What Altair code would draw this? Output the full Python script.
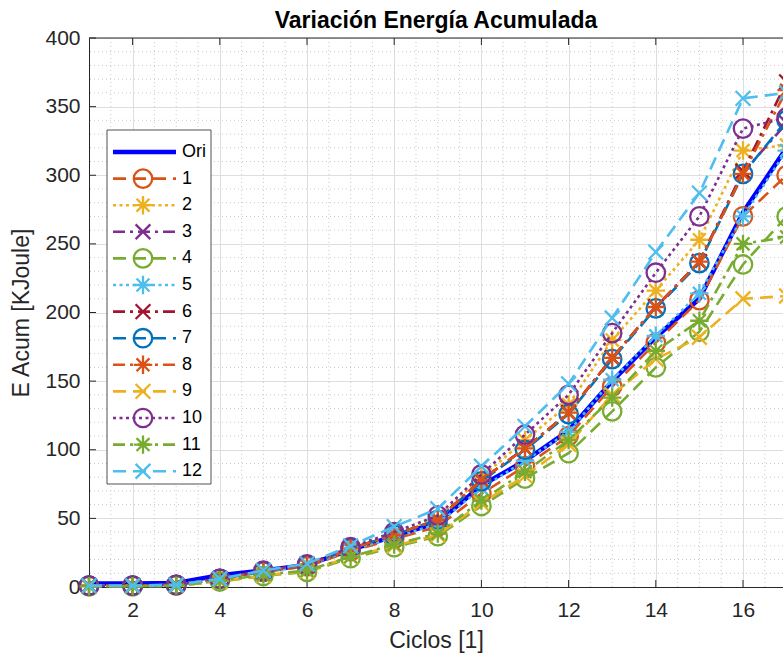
import altair as alt
import pandas as pd
import numpy as np

# ---------------- data ----------------
ciclos = list(range(1, 18))
ori = [2.5, 2.5, 3, 8.5, 12, 16, 27, 37, 47, 74, 92, 114, 150, 182, 210, 273, 320]
s1 = [1, 1, 1.5, 6, 11, 15, 26, 35, 44, 68, 88, 110, 146, 178, 209, 270, 300]
s2 = [1, 1, 1.5, 6, 11.5, 16, 28, 39, 50, 80, 107, 133, 180, 216, 253, 318, 322]
s3 = [1, 1, 1.5, 6, 11.5, 16, 28, 38, 49, 78, 101, 127, 167, 204, 237, 302, 338]
s4 = [0.5, 0.5, 1, 4, 8, 11, 21, 29, 37, 59, 79, 97.5, 128, 160, 186, 235, 270]
s5 = [1, 1, 1.5, 6, 11, 15.5, 27, 36, 46, 72, 92, 113, 151, 183, 214, 270, 318]
s6 = [1, 1, 1.5, 6, 11.5, 16, 28, 38, 49, 78, 101, 127, 167, 204, 237, 303, 368]
s7 = [1, 1, 1.5, 6, 11.5, 16, 28, 38, 49, 77, 100, 126, 166, 203, 236, 301, 340]
s8 = [1, 1, 1.5, 6, 11.5, 16, 28, 38, 49, 78, 101, 127, 167, 204, 237, 301, 362]
s9 = [0.5, 0.5, 1, 4, 8.5, 11.5, 22, 30, 38, 61, 81, 104, 140, 166, 182, 210, 212]
s10 = [1, 1, 1.5, 6, 12, 16.5, 29, 40, 52, 82, 111, 140, 185, 229, 270, 334, 342]
s11 = [0.5, 0.5, 1, 4.5, 9, 12, 22, 31, 39, 63, 84, 107, 138, 172, 194, 250, 255]
s12 = [1, 1, 1.5, 6, 12, 17, 30, 44, 57, 88, 117, 148, 196, 244, 287, 356, 360]

names = ["Ori", "1", "2", "3", "4", "5", "6", "7", "8", "9", "10", "11", "12"]
series = [ori, s1, s2, s3, s4, s5, s6, s7, s8, s9, s10, s11, s12]
colors = ["#0000FF", "#D95319", "#EDB120", "#7E2F8E", "#77AC30", "#4DBEEE",
          "#A2142F", "#0072BD", "#D95319", "#EDB120", "#7E2F8E", "#77AC30", "#4DBEEE"]
styles = ["-", "--", ":", "-.", "--", ":", "-.", "--", "-.", "--", ":", "-.", "--"]
markers = [None, "o", "*", "x", "o", "*", "x", "o", "*", "x", "o", "*", "x"]

x_ticks = [2, 4, 6, 8, 10, 12, 14, 16]
y_ticks = [0, 50, 100, 150, 200, 250, 300, 350, 400]

# ---------------- styling ----------------
W, H = 694, 549
FONT = "Liberation Sans"
TXT = "#262626"
MSIZE = 340
dash_map = {"-": None, "--": [13, 7], ":": [3, 3.5], "-.": [12, 5, 3, 5]}
shape_map = {
    "o": "circle",
    "*": "M0,-1L0,1M-1,0L1,0M-0.7,-0.7L0.7,0.7M-0.7,0.7L0.7,-0.7",
    "x": "M-0.8,-0.8L0.8,0.8M-0.8,0.8L0.8,-0.8",
}

xs = alt.Scale(domain=[1, 1 + W / 43.6], nice=False, zero=False)
ys = alt.Scale(domain=[0, 400], nice=False, zero=False)
xaxis = alt.Axis(values=x_ticks, title="Ciclos [1]", grid=True, gridColor="#dedede",
                 gridWidth=1, ticks=False, domainColor=TXT, domainWidth=1,
                 labelFontSize=21, labelColor=TXT, labelFont=FONT, labelPadding=12,
                 titleFontSize=23, titleFont=FONT, titleColor=TXT,
                 titleFontWeight="normal", titlePadding=9, format="d", labelFlush=False)
yaxis = alt.Axis(values=y_ticks, title="E Acum [KJoule]", grid=True, gridColor="#dedede",
                 gridWidth=1, ticks=False, domainColor=TXT, domainWidth=1,
                 labelFontSize=21, labelColor=TXT, labelFont=FONT, labelPadding=9,
                 titleFontSize=23, titleFont=FONT, titleColor=TXT,
                 titleFontWeight="normal", titlePadding=11, format="d", labelFlush=False)


def X(f):
    return alt.X(f, type="quantitative", scale=xs, axis=xaxis)


def Y(f):
    return alt.Y(f, type="quantitative", scale=ys, axis=yaxis)


layers = []

# minor grid
minor_x = [v for v in np.arange(1.5, 17.01, 0.5) if v not in x_ticks]
minor_y = [v for v in range(10, 400, 10) if v % 50 != 0]
layers.append(alt.Chart(pd.DataFrame({"v": minor_x})).mark_rule(
    color="#cacaca", strokeWidth=1, strokeDash=[1, 3]).encode(x=X("v")))
layers.append(alt.Chart(pd.DataFrame({"v": minor_y})).mark_rule(
    color="#cacaca", strokeWidth=1, strokeDash=[1, 3]).encode(y=Y("v")))

# inner ticks (bottom, top, left)
tx = pd.DataFrame({"v": x_ticks})
ty = pd.DataFrame({"v": y_ticks})
layers.append(alt.Chart(tx).mark_rule(color=TXT, strokeWidth=1).encode(
    x=X("v"), y=alt.value(H), y2=alt.value(H - 7)))
layers.append(alt.Chart(tx).mark_rule(color=TXT, strokeWidth=1).encode(
    x=X("v"), y=alt.value(0), y2=alt.value(7)))
layers.append(alt.Chart(ty).mark_rule(color=TXT, strokeWidth=1).encode(
    y=Y("v"), x=alt.value(0), x2=alt.value(7)))

# series
for name, vals, col, st, mk in zip(names, series, colors, styles, markers):
    df = pd.DataFrame({"ciclo": ciclos, "e": vals})
    lkw = dict(color=col, strokeWidth=4.5 if name == "Ori" else 2.6, strokeCap="butt")
    if dash_map[st] is not None:
        lkw["strokeDash"] = dash_map[st]
    base = alt.Chart(df)
    layers.append(base.mark_line(**lkw).encode(x=X("ciclo"), y=Y("e")))
    if mk is not None:
        layers.append(base.mark_point(shape=shape_map[mk], filled=False, size=MSIZE,
                                      strokeWidth=2.3, color=col, opacity=1)
                      .encode(x=X("ciclo"), y=Y("e")))

# top border
layers.append(alt.Chart(pd.DataFrame({"v": [0]})).mark_rule(color=TXT, strokeWidth=1).encode(
    x=alt.value(0), x2=alt.value(W), y=alt.value(0)))

# legend
LX0, LX1, LY0, LY1 = 18, 122, 92, 446
layers.append(alt.Chart(pd.DataFrame({"v": [0]})).mark_rect(
    fill="white", stroke=TXT, strokeWidth=0.8).encode(
    x=alt.value(LX0), x2=alt.value(LX1), y=alt.value(LY0), y2=alt.value(LY1)))
for i, (name, col, st, mk) in enumerate(zip(names, colors, styles, markers)):
    yy = 114 + 26.6 * i
    d = pd.DataFrame({"s": [name]})
    lkw = dict(color=col, strokeWidth=4.5 if name == "Ori" else 2.6, strokeCap="butt")
    if dash_map[st] is not None:
        lkw["strokeDash"] = dash_map[st]
    layers.append(alt.Chart(d).mark_rule(**lkw).encode(
        x=alt.value(24), x2=alt.value(87), y=alt.value(yy)))
    if mk is not None:
        layers.append(alt.Chart(d).mark_point(shape=shape_map[mk], filled=False, size=MSIZE,
                                              strokeWidth=2.3, color=col, opacity=1).encode(
            x=alt.value(54), y=alt.value(yy)))
    layers.append(alt.Chart(d).mark_text(align="left", baseline="middle", font=FONT,
                                         fontSize=18, color="#000000").encode(
        x=alt.value(93), y=alt.value(yy), text="s:N"))

chart = alt.layer(*layers).properties(
    width=W, height=H,
    title=alt.TitleParams("Variación Energía Acumulada", font=FONT, fontSize=23,
                          fontWeight="bold", color="#000000", anchor="middle",
                          offset=9, dy=15),
    autosize=alt.AutoSizeParams(type="none"),
    padding={"left": 89, "top": 38, "right": 0, "bottom": 67},
).configure_view(stroke=None).configure(background="white")

chart.save("out.html", embed_options={"renderer": "svg", "actions": False})
